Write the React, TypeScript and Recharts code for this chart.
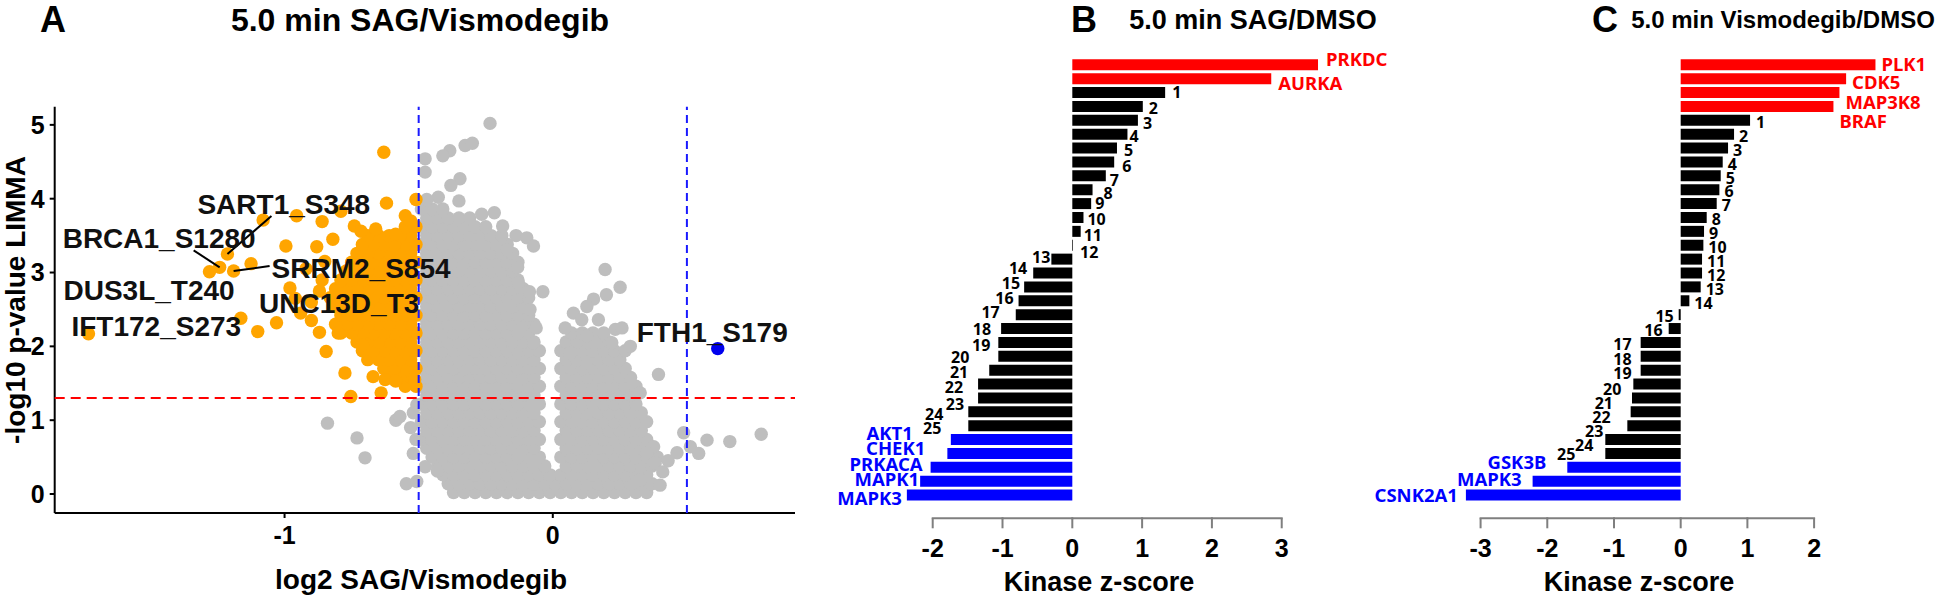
import React from "react";
import {
  ScatterChart,
  Scatter,
  XAxis,
  YAxis,
  ReferenceLine,
  BarChart,
  Bar,
  Cell,
  LabelList,
} from "recharts";

const FONT = '"Liberation Sans", Arial, Helvetica, sans-serif';
const LABEL_FONT = '"Noto Sans", "Open Sans", sans-serif';

// ---------- Panel A: volcano plot ----------
// dense non-significant cloud, read row by row: [-log10 p, log2 FC values]
const GRAY_ROWS: [number, number[]][] = [
  [0.02, [-0.37, -0.33, -0.29, -0.25, -0.21, -0.17, -0.13, -0.09, -0.05, -0.01, 0.03, 0.07, 0.11, 0.15, 0.19, 0.23, 0.27, 0.31, 0.35]],
  [0.14, [-0.39, -0.35, -0.31, -0.27, -0.23, -0.19, -0.15, -0.11, -0.07, -0.03, 0.01, 0.05, 0.09, 0.13, 0.17, 0.21, 0.25, 0.29, 0.33, 0.37]],
  [0.26, [-0.41, -0.37, -0.33, -0.29, -0.25, -0.21, -0.17, -0.13, -0.09, -0.05, -0.01, 0.03, 0.07, 0.11, 0.15, 0.19, 0.23, 0.27, 0.31, 0.35]],
  [0.38, [-0.43, -0.39, -0.35, -0.31, -0.27, -0.23, -0.19, -0.15, -0.11, -0.07, -0.03, 0.05, 0.09, 0.13, 0.17, 0.21, 0.25, 0.29, 0.33, 0.37]],
  [0.5, [-0.45, -0.41, -0.37, -0.33, -0.29, -0.25, -0.21, -0.17, -0.13, -0.09, -0.05, 0.03, 0.07, 0.11, 0.15, 0.19, 0.23, 0.27, 0.31, 0.35, 0.39]],
  [0.62, [-0.47, -0.43, -0.39, -0.35, -0.31, -0.27, -0.23, -0.19, -0.15, -0.11, -0.07, 0.05, 0.09, 0.13, 0.17, 0.21, 0.25, 0.29, 0.33, 0.37]],
  [0.74, [-0.49, -0.45, -0.41, -0.37, -0.33, -0.29, -0.25, -0.21, -0.17, -0.13, -0.09, -0.05, 0.03, 0.07, 0.11, 0.15, 0.19, 0.23, 0.27, 0.31, 0.35]],
  [0.86, [-0.47, -0.43, -0.39, -0.35, -0.31, -0.27, -0.23, -0.19, -0.15, -0.11, -0.07, 0.05, 0.09, 0.13, 0.17, 0.21, 0.25, 0.29, 0.33]],
  [0.98, [-0.49, -0.45, -0.41, -0.37, -0.33, -0.29, -0.25, -0.21, -0.17, -0.13, -0.09, -0.05, 0.03, 0.07, 0.11, 0.15, 0.19, 0.23, 0.27, 0.31, 0.35]],
  [1.1, [-0.47, -0.43, -0.39, -0.35, -0.31, -0.27, -0.23, -0.19, -0.15, -0.11, -0.07, 0.05, 0.09, 0.13, 0.17, 0.21, 0.25, 0.29, 0.33]],
  [1.22, [-0.49, -0.45, -0.41, -0.37, -0.33, -0.29, -0.25, -0.21, -0.17, -0.13, -0.09, -0.05, 0.03, 0.07, 0.11, 0.15, 0.19, 0.23, 0.27, 0.31]],
  [1.34, [-0.47, -0.43, -0.39, -0.35, -0.31, -0.27, -0.23, -0.19, -0.15, -0.11, -0.07, 0.05, 0.09, 0.13, 0.17, 0.21, 0.25, 0.29]],
  [1.46, [-0.49, -0.45, -0.41, -0.37, -0.33, -0.29, -0.25, -0.21, -0.17, -0.13, -0.09, -0.05, 0.03, 0.07, 0.11, 0.15, 0.19, 0.23, 0.27, 0.31]],
  [1.58, [-0.47, -0.43, -0.39, -0.35, -0.31, -0.27, -0.23, -0.19, -0.15, -0.11, -0.07, 0.05, 0.09, 0.13, 0.17, 0.21, 0.25, 0.29]],
  [1.7, [-0.49, -0.45, -0.41, -0.37, -0.33, -0.29, -0.25, -0.21, -0.17, -0.13, -0.09, -0.05, 0.03, 0.07, 0.11, 0.15, 0.19, 0.23, 0.27]],
  [1.82, [-0.47, -0.43, -0.39, -0.35, -0.31, -0.27, -0.23, -0.19, -0.15, -0.11, -0.07, 0.05, 0.09, 0.13, 0.17, 0.21, 0.25]],
  [1.94, [-0.49, -0.45, -0.41, -0.37, -0.33, -0.29, -0.25, -0.21, -0.17, -0.13, -0.09, -0.05, 0.03, 0.07, 0.11, 0.15, 0.19, 0.23, 0.27]],
  [2.06, [-0.47, -0.43, -0.39, -0.35, -0.31, -0.27, -0.23, -0.19, -0.15, -0.11, -0.07, 0.05, 0.09, 0.13, 0.17, 0.21]],
  [2.18, [-0.49, -0.45, -0.41, -0.37, -0.33, -0.29, -0.25, -0.21, -0.17, -0.13, -0.09, 0.07, 0.11, 0.15, 0.19]],
  [2.3, [-0.47, -0.43, -0.39, -0.35, -0.31, -0.27, -0.23, -0.19, -0.15, -0.11, -0.07]],
  [2.42, [-0.49, -0.45, -0.41, -0.37, -0.33, -0.29, -0.25, -0.21, -0.17, -0.13, -0.09]],
  [2.54, [-0.47, -0.43, -0.39, -0.35, -0.31, -0.27, -0.23, -0.19, -0.15, -0.11]],
  [2.66, [-0.49, -0.45, -0.41, -0.37, -0.33, -0.29, -0.25, -0.21, -0.17, -0.13, -0.09]],
  [2.78, [-0.47, -0.43, -0.39, -0.35, -0.31, -0.27, -0.23, -0.19, -0.15, -0.11]],
  [2.9, [-0.49, -0.45, -0.41, -0.37, -0.33, -0.29, -0.25, -0.21, -0.17, -0.13]],
  [3.02, [-0.47, -0.43, -0.39, -0.35, -0.31, -0.27, -0.23, -0.19, -0.15]],
  [3.14, [-0.49, -0.45, -0.41, -0.37, -0.33, -0.29, -0.25, -0.21, -0.17, -0.13]],
  [3.26, [-0.47, -0.43, -0.39, -0.35, -0.31, -0.27, -0.23, -0.19, -0.15]],
  [3.38, [-0.49, -0.45, -0.41, -0.37, -0.33, -0.29, -0.25, -0.21, -0.17]],
  [3.5, [-0.47, -0.43, -0.39, -0.35, -0.31, -0.27, -0.23, -0.19]],
  [3.62, [-0.49, -0.45, -0.41, -0.37, -0.33, -0.29, -0.25]],
  [3.74, [-0.47, -0.43, -0.39, -0.35, -0.31]],
  [3.86, [-0.49, -0.45, -0.41]],
];

// scattered grey points around the cloud: [log2 FC, -log10 p]
const GRAY_EXTRA: [number, number][] = [
  [-0.234, 5.02], [-0.384, 4.65], [-0.41, 4.58], [-0.327, 4.72], [-0.3, 4.75], [-0.476, 4.54],
  [-0.476, 4.36], [-0.346, 4.27], [-0.38, 4.18], [-0.35, 3.97], [-0.427, 4.02], [-0.47, 3.99],
  [-0.265, 3.79], [-0.218, 3.81], [-0.187, 3.63], [-0.137, 3.5], [-0.097, 3.47], [-0.072, 3.36],
  [-0.17, 3.31], [-0.131, 3.07], [-0.128, 2.86], [-0.087, 2.74], [-0.037, 2.74], [-0.085, 2.5],
  [-0.062, 2.25], [-0.072, 2.05],
  [0.195, 3.04], [0.251, 2.8], [0.2, 2.7], [0.152, 2.64], [0.127, 2.54], [0.077, 2.45],
  [0.046, 2.25], [0.108, 2.36], [0.17, 2.36], [0.233, 2.23], [0.258, 2.25], [0.289, 2.0],
  [0.22, 2.05], [0.127, 2.14], [0.065, 1.91],
  [0.394, 1.62], [0.326, 1.37], [0.488, 0.83], [0.575, 0.73], [0.66, 0.71], [0.777, 0.81],
  [0.463, 0.56], [0.513, 0.64], [0.544, 0.55], [0.376, 0.64], [0.351, 0.55], [0.382, 0.42],
  [0.326, 0.19], [0.41, 0.3], [0.4, 0.12], [0.43, 0.45],
  [-0.84, 0.96], [-0.73, 0.76], [-0.7, 0.49], [-0.585, 1.0], [-0.57, 1.05], [-0.546, 0.14],
  [-0.507, 0.17], [-0.51, 0.74], [-0.507, 1.21], [-0.476, 0.37], [-0.43, 0.31], [-0.52, 0.55],
  [-0.53, 0.9], [-0.52, 1.1],
];

// significant (p < 0.05, log2 FC < -0.5), dense part by rows
const ORANGE_ROWS: [number, number[]][] = [
  [1.46, [-0.51, -0.55]],
  [1.58, [-0.53, -0.57, -0.61]],
  [1.7, [-0.51, -0.55, -0.59, -0.63]],
  [1.82, [-0.53, -0.57, -0.61, -0.65, -0.69]],
  [1.94, [-0.51, -0.55, -0.59, -0.63, -0.67, -0.71]],
  [2.06, [-0.53, -0.57, -0.61, -0.65, -0.69, -0.73]],
  [2.18, [-0.51, -0.55, -0.59, -0.63, -0.67, -0.71, -0.75, -0.79]],
  [2.3, [-0.53, -0.57, -0.61, -0.65, -0.69, -0.73, -0.77, -0.81]],
  [2.42, [-0.51, -0.55, -0.59, -0.63, -0.67, -0.71, -0.75, -0.79]],
  [2.54, [-0.53, -0.57, -0.61, -0.65, -0.69, -0.73, -0.77, -0.81]],
  [2.66, [-0.51, -0.55, -0.59, -0.63, -0.67, -0.71, -0.75, -0.79, -0.83]],
  [2.78, [-0.53, -0.57, -0.61, -0.65, -0.69, -0.73, -0.77, -0.81]],
  [2.9, [-0.51, -0.55, -0.59, -0.63, -0.67, -0.71, -0.75, -0.79]],
  [3.02, [-0.53, -0.57, -0.61, -0.65, -0.69, -0.73, -0.77]],
  [3.14, [-0.51, -0.55, -0.59, -0.63, -0.67, -0.71, -0.75]],
  [3.26, [-0.53, -0.57, -0.61, -0.65, -0.69, -0.73]],
  [3.38, [-0.51, -0.55, -0.59, -0.63, -0.67, -0.71]],
  [3.5, [-0.53, -0.57, -0.61, -0.65, -0.69]],
  [3.62, [-0.51, -0.55]],
];

const ORANGE_EXTRA: [number, number][] = [
  [-0.63, 4.63], [-0.62, 3.94], [-0.51, 3.99], [-0.955, 3.77], [-1.08, 3.71], [-0.86, 3.69],
  [-0.79, 3.83], [-0.74, 3.63], [-0.715, 3.56], [-0.66, 3.59], [-0.586, 3.52], [-0.55, 3.77],
  [-0.53, 3.7], [-0.995, 3.36], [-0.88, 3.35], [-1.213, 3.25], [-1.242, 3.07], [-1.19, 3.02],
  [-1.28, 3.01], [-1.125, 3.12], [-0.98, 2.79], [-1.731, 2.17], [-1.163, 2.38], [-1.1, 2.2],
  [-1.03, 2.32], [-0.94, 2.45], [-0.87, 2.19], [-0.845, 1.93], [-0.8, 2.18], [-0.775, 1.64],
  [-0.753, 1.32], [-0.71, 2.02], [-0.67, 1.59], [-0.64, 1.37], [-0.625, 1.55], [-0.586, 1.53],
  [-0.515, 1.55], [-0.9, 2.6], [-0.86, 2.9], [-0.92, 3.05],
  [-0.87, 2.75], [-0.9, 2.35], [-0.85, 3.15], [-0.82, 3.45], [-0.96, 2.65],
];

const BLUE_POINTS: [number, number][] = [[0.615, 1.97]];

const ANNOT_NAMES = ["SART1_S348", "BRCA1_S1280", "SRRM2_S854", "DUS3L_T240", "UNC13D_T3", "IFT172_S273", "FTH1_S179"];
const ANNOT_X = [-1.213, -1.242, -1.19, -1.28, -0.52, -1.731, 0.615];
const ANNOT_Y = [3.25, 3.07, 3.02, 3.01, 2.6, 2.17, 1.97];

const A_XTICKS = [-1, 0];
const A_YTICKS = [0, 1, 2, 3, 4, 5];

// label placement (px, relative to the point)
const ANNOT_LAYOUT: Record<string, { anchor: string; dx: number; dy: number; line?: [number, number] }> = {
  SART1_S348: { anchor: "start", dx: -30, dy: -50, line: [44, -38] },
  BRCA1_S1280: { anchor: "start", dx: -157, dy: -29, line: [-26, -17] },
  SRRM2_S854: { anchor: "start", dx: 38, dy: -3, line: [36, -5] },
  DUS3L_T240: { anchor: "start", dx: -146, dy: 18 },
  UNC13D_T3: { anchor: "end", dx: 6, dy: 1 },
  IFT172_S273: { anchor: "start", dx: -17, dy: -8 },
  FTH1_S179: { anchor: "start", dx: -81, dy: -17 },
};

// ---------- Panel B: 5.0 min SAG/DMSO ----------
const B_NAMES = [
  "PRKDC", "AURKA",
  "1", "2", "3", "4", "5", "6", "7", "8", "9", "10", "11", "12", "13",
  "14", "15", "16", "17", "18", "19", "20", "21", "22", "23", "24", "25",
  "AKT1", "CHEK1", "PRKACA", "MAPK1", "MAPK3",
];
const B_SCORES = [
  3.52, 2.85,
  1.33, 1.01, 0.94, 0.79, 0.64, 0.6, 0.48, 0.29, 0.27, 0.16, 0.12, 0.01, -0.3,
  -0.56, -0.69, -0.77, -0.81, -1.02, -1.06, -1.06, -1.19, -1.35, -1.35, -1.49, -1.49,
  -1.74, -1.79, -2.03, -2.18, -2.37,
];
const B_TICKS = [-2, -1, 0, 1, 2, 3];
// label gap / vertical nudge in px
const B_NUDGE: [number, number][] = [
  [8, -5], [7, 5],
  [7, 0], [6, 2], [5, 3], [2, 2], [7, 2], [8, 4], [4, 4], [11, 4], [4, 0], [4, 2], [3, 4], [7, 7], [1, -2],
  [6, -5], [4, -4], [5, -3], [16, -2], [10, 1], [8, 3], [29, 1], [21, 2], [15, 3], [14, 6], [25, 2], [27, 3],
  [38, -6], [22, -5], [8, -3], [1, -2], [5, 3],
];

// ---------- Panel C: 5.0 min Vismodegib/DMSO ----------
const C_NAMES = [
  "PLK1", "CDK5", "MAP3K8", "BRAF",
  "1", "2", "3", "4", "5", "6", "7", "8", "9", "10", "11", "12", "13",
  "14", "15", "16", "17", "18", "19", "20", "21", "22", "23", "24", "25",
  "GSK3B", "MAPK3", "CSNK2A1",
];
const C_SCORES = [
  2.92, 2.48, 2.38, 2.29,
  1.04, 0.8, 0.71, 0.63, 0.6, 0.58, 0.54, 0.39, 0.35, 0.34, 0.32, 0.32, 0.3,
  0.13, -0.03, -0.18, -0.6, -0.6, -0.6, -0.71, -0.73, -0.75, -0.8, -1.13, -1.13,
  -1.7, -2.22, -3.22,
];
const C_TICKS = [-3, -2, -1, 0, 1, 2];
const C_NUDGE: [number, number][] = [
  [6, 0], [6, 4], [6, 10], [6, 15],
  [6, 2], [5, 2], [5, 2], [5, 2], [5, 2], [5, 2], [5, 2], [5, 2], [5, 2], [5, 2], [5, 2], [5, 2], [5, 2],
  [5, 2], [5, 2], [6, 2], [9, 2], [9, 3], [9, 3], [12, 5], [19, 5], [20, 5], [24, 6], [12, 6], [30, 1],
  [21, -5], [11, -2], [8, 0],
];

const R = 6.7;

const toPts = (pairs: [number, number][]) => pairs.map(([x, y]) => ({ x, y }));
const rowPts = (rows: [number, number[]][]) => rows.flatMap(([y, xs]) => xs.map((x) => ({ x, y })));

const grayData = [...rowPts(GRAY_ROWS), ...toPts(GRAY_EXTRA)];
const orangeData = [...rowPts(ORANGE_ROWS), ...toPts(ORANGE_EXTRA)];
const blueData = toPts(BLUE_POINTS);
const annotData = ANNOT_NAMES.map((name, i) => ({ name, x: ANNOT_X[i], y: ANNOT_Y[i] }));

const dot = (color: string) => (p: any) => <circle cx={p.cx} cy={p.cy} r={R} fill={color} />;

function AnnotShape(p: any) {
  const name = p.payload?.name;
  const lay = ANNOT_LAYOUT[name];
  if (!lay) return <g />;
  const fs = 28;
  return (
    <g>
      {lay.line && (
        <line x1={p.cx} y1={p.cy} x2={p.cx + lay.line[0]} y2={p.cy + lay.line[1]} stroke="#000" strokeWidth={2} />
      )}
      <text
        x={p.cx + lay.dx}
        y={p.cy + lay.dy + fs * 0.36}
        textAnchor={lay.anchor}
        fontFamily={FONT}
        fontWeight="bold"
        fontSize={fs}
        fill="#111"
      >
        {name}
      </text>
    </g>
  );
}

function VolcanoPanel() {
  const tickStyle = { fontSize: 25, fontWeight: "bold", fill: "#000", fontFamily: FONT };
  return (
    <ScatterChart width={830} height={597} margin={{ top: 106.7, right: 35, bottom: 0, left: 0 }}>
      <XAxis
        type="number"
        dataKey="x"
        domain={[-1.857, 0.903]}
        ticks={A_XTICKS}
        allowDataOverflow
        height={84}
        tickSize={5}
        tickMargin={8}
        axisLine={{ stroke: "#000", strokeWidth: 2 }}
        tickLine={{ stroke: "#000", strokeWidth: 2 }}
        tick={tickStyle}
      />
      <YAxis
        type="number"
        dataKey="y"
        domain={[-0.257, 5.246]}
        ticks={A_YTICKS}
        allowDataOverflow
        width={54.7}
        tickSize={5}
        tickMargin={5}
        axisLine={{ stroke: "#000", strokeWidth: 2 }}
        tickLine={{ stroke: "#000", strokeWidth: 2 }}
        tick={tickStyle}
      />
      <Scatter data={grayData} fill="#bebebe" shape={dot("#bebebe")} isAnimationActive={false} />
      <Scatter data={orangeData} fill="#ffa500" shape={dot("#ffa500")} isAnimationActive={false} />
      <Scatter data={blueData} fill="#0000ee" shape={dot("#0000ee")} isAnimationActive={false} />
      <ReferenceLine x={-0.5} stroke="#1a1aff" strokeWidth={2} strokeDasharray="8 5" zIndex={1000} />
      <ReferenceLine x={0.5} stroke="#1a1aff" strokeWidth={2} strokeDasharray="8 5" zIndex={1000} />
      <ReferenceLine y={1.3} stroke="#ff0000" strokeWidth={2} strokeDasharray="10 6" zIndex={1000} />
      <Scatter data={annotData} shape={AnnotShape} isAnimationActive={false} zIndex={1100} />
    </ScatterChart>
  );
}

function makeRTick(ticks: number[], unitPx: number) {
  return function RTick(props: any) {
    const { x, y, payload } = props;
    const v = Number(payload?.value);
    const i = ticks.indexOf(v);
    const next = i >= 0 && i < ticks.length - 1 ? ticks[i + 1] : null;
    const ay = y + 16.2;
    return (
      <g>
        {next !== null && (
          <line x1={x - 1} x2={x + (next - v) * unitPx + 1} y1={ay} y2={ay} stroke="#7f7f7f" strokeWidth={2} />
        )}
        <line x1={x} x2={x} y1={ay} y2={ay + 10} stroke="#7f7f7f" strokeWidth={2} />
        <text x={x} y={ay + 38.4} textAnchor="middle" fontFamily={FONT} fontWeight="bold" fontSize={25} fill="#000">
          {String(v)}
        </text>
      </g>
    );
  };
}

type KinaseProps = {
  names: string[];
  scores: number[];
  nudge: [number, number][];
  ticks: number[];
  domain: [number, number];
  width: number;
  mLeft: number;
  mRight: number;
};

function KinasePanel({ names, scores, nudge, ticks, domain, width, mLeft, mRight }: KinaseProps) {
  const data = names.map((name, i) => ({ name, score: scores[i] }));
  const unitPx = (width - mLeft - mRight) / (domain[1] - domain[0]);
  const colorOf = (name: string, s: number) => (/^\d+$/.test(name) ? "#000" : s > 0 ? "#ff0000" : "#0000ff");

  const renderLabel = (props: any) => {
    const vb = props.viewBox && props.viewBox.width !== undefined ? props.viewBox : props;
    const x = Number(vb.x);
    const y = Number(vb.y);
    const w = Number(vb.width);
    const h = Number(vb.height);
    const name = String(props.value);
    const idx = names.indexOf(name);
    const s = scores[idx];
    const [gap, dy] = nudge[idx] || [5, 2];
    const left = Math.min(x, x + w);
    const right = Math.max(x, x + w);
    const isNum = /^\d+$/.test(name);
    const fs = isNum ? 16 : 18.5;
    const cy = y + h / 2 + dy;
    return (
      <text
        key={`lab-${name}`}
        x={s >= 0 ? right + gap : left - gap}
        y={cy + fs * 0.36}
        textAnchor={s >= 0 ? "start" : "end"}
        fontFamily={LABEL_FONT}
        fontWeight="bold"
        fontSize={fs}
        fill={colorOf(name, s)}
      >
        {name}
      </text>
    );
  };

  return (
    <BarChart
      layout="vertical"
      width={width}
      height={597}
      data={data}
      margin={{ top: 57.9, right: mRight, bottom: 34.9, left: mLeft }}
      barCategoryGap="10%"
    >
      <XAxis
        type="number"
        domain={domain}
        ticks={ticks}
        allowDataOverflow
        interval={0}
        height={60}
        axisLine={false}
        tickLine={false}
        tickSize={0}
        tickMargin={0}
        tick={makeRTick(ticks, unitPx)}
      />
      <YAxis type="category" dataKey="name" hide />
      <Bar dataKey="score" isAnimationActive={false}>
        {data.map((d) => (
          <Cell key={d.name} fill={colorOf(d.name, d.score)} />
        ))}
        <LabelList dataKey="name" content={renderLabel} />
      </Bar>
    </BarChart>
  );
}

const abs = (left: number, top: number): React.CSSProperties => ({ position: "absolute", left, top });

function Heading({ text, cx, cy, size, left }: { text: string; cx?: number; cy: number; size: number; left?: number }) {
  const style: React.CSSProperties = {
    position: "absolute",
    top: cy - size * 0.49,
    fontFamily: FONT,
    fontWeight: "bold",
    fontSize: size,
    lineHeight: 1,
    whiteSpace: "nowrap",
    color: "#000",
  };
  if (left !== undefined) style.left = left;
  else {
    style.left = cx;
    style.transform = "translateX(-50%)";
  }
  return <div style={style}>{text}</div>;
}

export default function App() {
  return (
    <div style={{ position: "absolute", left: 0, top: 0, width: 1946, height: 597, background: "#fff", overflow: "hidden" }}>
      <div style={abs(0, 0)}>
        <VolcanoPanel />
      </div>
      <div style={abs(820, 0)}>
        <KinasePanel
          names={B_NAMES}
          scores={B_SCORES}
          nudge={B_NUDGE}
          ticks={B_TICKS}
          domain={[-2.5, 3.6]}
          width={620}
          mLeft={77.8}
          mRight={116.4}
        />
      </div>
      <div style={abs(1340, 0)}>
        <KinasePanel
          names={C_NAMES}
          scores={C_SCORES}
          nudge={C_NUDGE}
          ticks={C_TICKS}
          domain={[-3.4, 3.0]}
          width={606}
          mLeft={113.9}
          mRight={65.2}
        />
      </div>

      <Heading text="A" left={40} cy={20} size={36} />
      <Heading text="5.0 min SAG/Vismodegib" cx={420} cy={20} size={32} />
      <Heading text="log2 SAG/Vismodegib" cx={421} cy={580} size={28} />
      <div
        style={{
          position: "absolute",
          left: 16,
          top: 300,
          transform: "translate(-50%, -50%) rotate(-90deg)",
          fontFamily: FONT,
          fontWeight: "bold",
          fontSize: 28,
          lineHeight: 1,
          whiteSpace: "nowrap",
        }}
      >
        -log10 p-value LIMMA
      </div>

      <Heading text="B" left={1071} cy={20} size={36} />
      <Heading text="5.0 min SAG/DMSO" cx={1253} cy={20} size={27} />
      <Heading text="Kinase z-score" cx={1099} cy={582} size={27} />

      <Heading text="C" left={1592} cy={20} size={36} />
      <Heading text="5.0 min Vismodegib/DMSO" cx={1783} cy={20} size={24} />
      <Heading text="Kinase z-score" cx={1639} cy={582} size={27} />
    </div>
  );
}
